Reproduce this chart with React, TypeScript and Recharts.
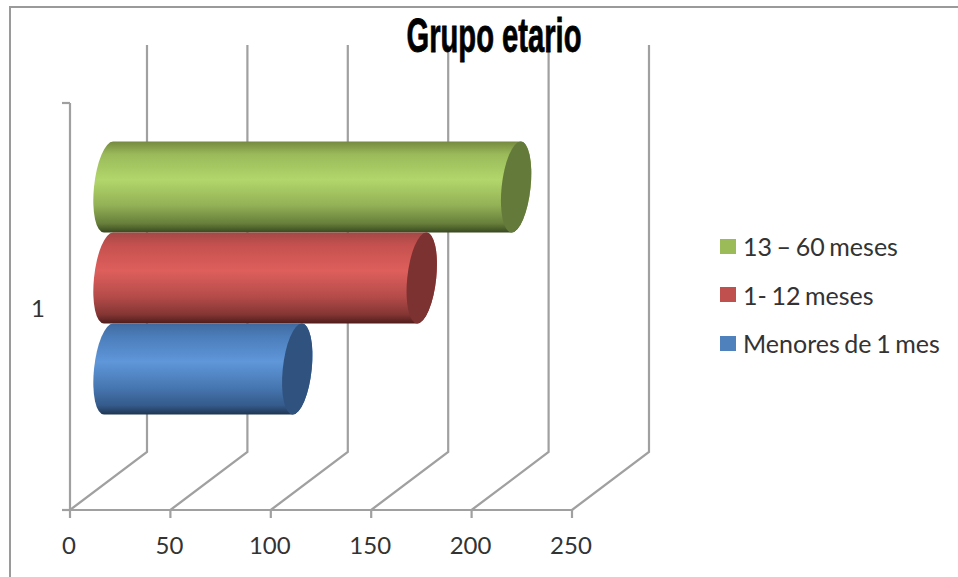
import React from "react";
import { BarChart, Bar, XAxis, YAxis, Legend, CartesianGrid } from "recharts";

const categories = ["1"];
const seriesNames = ["13 – 60 meses", "1- 12 meses", "Menores de 1 mes"];
const olderValues = [203];
const infantValues = [156];
const newbornValues = [94];
const xTicks = [0, 50, 100, 150, 200, 250];

const rows = categories.map((category, i) => ({
  category,
  older: olderValues[i],
  infant: infantValues[i],
  newborn: newbornValues[i],
}));

// Depth of the pseudo-3D box, from the front plane to the back wall.
const DEPTH_X = 77;
const DEPTH_Y = -58;
const BAR_LIFT = 28.5;
const CAP_RX = 14.5;
const SHEAR = -0.1;
const AXIS_GREY = "#a0a0a0";
const AXIS_WIDTH = 2.2;
const LABEL_FONT = "Lato, 'Open Sans', sans-serif";

const palettes: Record<string, { stops: [number, string][]; cap: string }> = {
  green: {
    cap: "#647a3a",
    stops: [[0, "#76893f"], [0.14, "#9aba5a"], [0.42, "#b2d66b"], [0.7, "#93b156"], [0.9, "#677f3b"], [1, "#38481f"]],
  },
  red: {
    cap: "#7c3231",
    stops: [[0, "#a34846"], [0.14, "#c5514f"], [0.42, "#de5f5c"], [0.7, "#b54c4a"], [0.9, "#843634"], [1, "#4f1c1b"]],
  },
  blue: {
    cap: "#30527f",
    stops: [[0, "#41699f"], [0.14, "#4b7dba"], [0.42, "#5f97da"], [0.7, "#4777b1"], [0.9, "#345b8b"], [1, "#1f3552"]],
  },
};

function Cylinder(props: any) {
  const { x, y, width, height, paletteName } = props;
  const palette = palettes[paletteName];
  const left = x + DEPTH_X / 2;
  const right = left + width;
  const top = y - BAR_LIFT;
  const bottom = top + height;
  const ry = height / 2;
  const mid = top + ry;
  const body = `M${left},${top} A${CAP_RX},${ry} 0 0 0 ${left},${bottom} L${right},${bottom} A${CAP_RX},${ry} 0 0 0 ${right},${top} Z`;
  return (
    <g transform={`matrix(1 0 ${SHEAR} 1 ${-SHEAR * mid} 0)`}>
      <defs>
        <linearGradient id={`tube-${paletteName}`} x1="0" y1="0" x2="0" y2="1">
          {palette.stops.map(([offset, color]) => (
            <stop key={offset} offset={offset} stopColor={color} />
          ))}
        </linearGradient>
      </defs>
      <path d={body} fill={`url(#tube-${paletteName})`} />
      <ellipse cx={right} cy={mid} rx={CAP_RX} ry={ry} fill={palette.cap} />
    </g>
  );
}

// Grid line: floor diagonal from the front edge, then straight up the back wall.
function WallLine(props: any) {
  const { x1, y1, y2 } = props;
  const bottom = Math.max(y1, y2);
  const top = Math.min(y1, y2);
  return (
    <polyline
      points={`${x1},${bottom} ${x1 + DEPTH_X},${bottom + DEPTH_Y} ${x1 + DEPTH_X},${top + DEPTH_Y}`}
      stroke={AXIS_GREY}
      strokeWidth={AXIS_WIDTH}
      fill="none"
    />
  );
}

function ValueTick(props: any) {
  const { x, y, payload } = props;
  const base = y - 8;
  return (
    <g>
      <line x1={x} y1={base} x2={x} y2={base + 8} stroke={AXIS_GREY} strokeWidth={AXIS_WIDTH} />
      <text x={x - 1} y={base + 44} textAnchor="middle" fontFamily={LABEL_FONT} fontSize={24} fill="#333">
        {payload.value}
      </text>
    </g>
  );
}

function SeriesLegend({ payload }: any) {
  return (
    <div>
      {(payload ?? []).map((entry: any) => (
        <div key={entry.value} style={{ display: "flex", alignItems: "center", height: 48.5 }}>
          <span style={{ width: 16, height: 15, background: entry.color, marginRight: 7 }} />
          <span style={{ fontFamily: LABEL_FONT, fontSize: 25, wordSpacing: -1.8, color: "#333", whiteSpace: "nowrap" }}>
            {entry.value}
          </span>
        </div>
      ))}
    </div>
  );
}

export default function App() {
  return (
    <div style={{ position: "absolute", left: 0, top: 0, width: 958, height: 577, background: "#fff", overflow: "hidden" }}>
      <div style={{ position: "absolute", left: 9, top: 6, width: 960, height: 580, border: "2px solid #9a9a9a" }} />
      <BarChart
        width={958}
        height={577}
        layout="vertical"
        data={rows}
        margin={{ top: 103, right: 156, bottom: 7, left: 30 }}
        barCategoryGap={67}
        barGap={0}
        style={{ position: "absolute", left: 0, top: 0 }}
      >
        <CartesianGrid horizontal={false} vertical={(p: any) => <WallLine {...p} />} />
        <XAxis
          type="number"
          domain={[0, 250]}
          ticks={xTicks}
          interval={0}
          height={60}
          axisLine={{ stroke: AXIS_GREY, strokeWidth: AXIS_WIDTH }}
          tickLine={false}
          tick={<ValueTick />}
        />
        <YAxis
          type="category"
          dataKey="category"
          width={40}
          axisLine={{ stroke: AXIS_GREY, strokeWidth: AXIS_WIDTH }}
          tickLine={false}
          tick={{ fontFamily: LABEL_FONT, fontSize: 24, fill: "#333", dx: -17, dy: 2 }}
        />
        <Bar dataKey="older" name={seriesNames[0]} fill="#9bbb59" isAnimationActive={false} shape={<Cylinder paletteName="green" />} />
        <Bar dataKey="infant" name={seriesNames[1]} fill="#c0504d" isAnimationActive={false} shape={<Cylinder paletteName="red" />} />
        <Bar dataKey="newborn" name={seriesNames[2]} fill="#4f81bd" isAnimationActive={false} shape={<Cylinder paletteName="blue" />} />
        <Legend
          layout="vertical"
          align="right"
          verticalAlign="middle"
          itemSorter={null}
          content={<SeriesLegend />}
          wrapperStyle={{ left: 720, top: 222, width: 230 }}
        />
        <text
          x={494}
          y={52}
          textAnchor="middle"
          fontFamily="'Liberation Sans Narrow', 'Liberation Sans', sans-serif"
          fontWeight="bold"
          fontSize={48}
          textLength={175}
          lengthAdjust="spacingAndGlyphs"
          stroke="#000"
          strokeWidth={0.8}
          fill="#000"
        >
          Grupo etario
        </text>
        <g stroke={AXIS_GREY} strokeWidth={AXIS_WIDTH} fill="none">
          <line x1={62} y1={103} x2={70} y2={103} />
          <line x1={62} y1={510} x2={70} y2={510} />
        </g>
      </BarChart>
    </div>
  );
}
